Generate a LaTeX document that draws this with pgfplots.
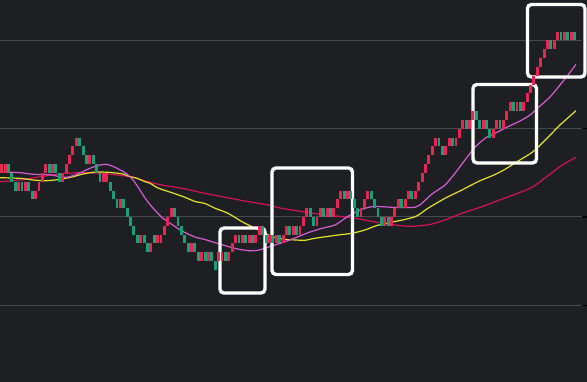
\documentclass[border=0pt]{standalone}
\usepackage{pgfplots}
\pgfplotsset{compat=1.18}
\definecolor{bg}{RGB}{30,31,34}
\definecolor{gridc}{RGB}{72,73,77}
\definecolor{bred}{RGB}{232,38,84}
\definecolor{bgreen}{RGB}{30,158,118}
\definecolor{mamag}{RGB}{214,92,214}
\definecolor{mayel}{RGB}{226,226,44}
\definecolor{macrim}{RGB}{212,18,88}
\begin{document}
\begin{tikzpicture}
\begin{axis}[name=ax, at={(0,0)}, anchor=south west,
  scale only axis, width=587bp, height=382bp,
  xmin=0, xmax=173.16, ymin=-8.69, ymax=34.58,
  axis background/.style={fill=bg},
  axis line style={draw=none},
  xtick=\empty,
  ytick={0,10,20,30}, yticklabels={}, ytick pos=right, tick align=inside,
  major tick length=5bp, tick style={draw=black, line width=1.2bp},
  ymajorgrids, major grid style={draw=gridc, line width=1bp},
]
% moving averages
\addplot[macrim, line width=1.2bp, smooth, tension=0.4] coordinates {
(0,14.00) (5.90,14.19) (11.80,14.56) (17.70,14.87) (23.60,15.02) (29.50,14.95)
(34.51,14.76) (39.23,14.50) (44.25,13.93) (47.79,13.62) (53.69,13.25) (60.47,12.68)
(71.39,11.87) (79.06,11.36) (82.60,11.02) (89.38,10.60) (94.99,10.28) (103.83,9.91)
(111.50,9.38) (116.52,9.09) (120.35,8.95) (123.01,8.98) (126.84,9.15) (131.27,9.66)
(136.28,10.42) (142.18,11.17) (146.02,11.73) (151.33,12.49) (157.23,13.43)
(165.19,15.70) (169.91,16.76)};
\addplot[mayel, line width=1.2bp, smooth, tension=0.4] coordinates {
(0,14.45) (5.90,14.38) (9.73,14.19) (13.86,14.11) (17.70,14.27) (21.53,14.56)
(24.48,14.87) (27.43,15.06) (29.50,15.10) (32.74,15.04) (36.28,14.87) (37.76,14.64)
(40.41,14.38) (42.77,14.00) (44.25,13.82) (46.61,13.28) (50.74,12.75) (54.57,12.23)
(57.52,11.76) (60.47,11.53) (63.42,10.99) (67.26,10.42) (71.39,9.47) (74.34,8.90)
(77.29,8.34) (80.24,7.77) (84.07,7.47) (87.02,7.40) (89.97,7.36) (92.92,7.59)
(99.71,7.96) (103.83,8.15) (107.67,8.53) (111.21,9.04) (116.52,9.49) (119.47,9.72)
(122.42,10.03) (123.89,10.34) (126.25,10.99) (131.27,12.12) (136.28,13.06)
(141.00,14.00) (146.02,14.81) (148.97,15.40) (152.51,16.26) (157.23,17.40)
(161.36,18.91) (165.19,20.42) (169.91,22.04)};
\addplot[mamag, line width=1.2bp, smooth, tension=0.4] coordinates {
(0,15.13) (5.90,15.02) (9.73,14.84) (14.75,14.78) (17.70,14.56) (19.76,14.50)
(22.71,14.84) (26.55,15.52) (29.50,15.89) (31.27,15.97) (33.04,15.78) (34.51,15.52)
(35.99,15.21) (37.46,14.87) (39.23,14.19) (40.71,13.40) (42.77,12.15) (44.84,11.14)
(47.79,9.95) (50.74,9.15) (53.69,8.41) (57.52,7.73) (60.47,7.45) (62.54,7.20)
(67.26,6.66) (70.80,6.32) (73.75,6.17) (76.11,6.23) (78.17,6.46) (81.12,6.83)
(84.07,7.20) (87.02,7.62) (90.86,8.22) (94.99,8.72) (98.82,9.09) (101.77,9.85)
(103.83,10.34) (106.78,10.87) (109.73,11.17) (112.68,11.17) (116.52,11.08)
(122.42,11.10) (123.89,11.36) (127.43,12.60) (131.27,13.62) (134.22,14.95)
(137.17,16.46) (140.12,17.89) (143.07,18.91) (146.02,19.48) (149.85,20.23)
(153.39,20.87) (156.34,21.55) (159.29,22.57) (162.24,23.59) (165.19,24.95)
(167.55,26.08) (169.91,27.29)};
% up bricks (red)
\addplot[only marks, mark=|, mark size=4.414bp, mark options={draw=bred, line width=2.9bp}] table {
x y
0.5 15.5
1.5 15.5
5.5 13.5
7.5 13.5
10.5 12.5
11.5 13.5
12.5 14.5
13.5 15.5
15.5 15.5
18.5 14.5
19.5 15.5
20.5 16.5
21.5 17.5
22.5 18.5
26.5 16.5
30.5 14.5
31.5 14.5
35.5 11.5
41.5 7.5
44.5 6.5
46.5 7.5
47.5 7.5
48.5 8.5
49.5 9.5
50.5 10.5
56.5 6.5
59.5 5.5
61.5 5.5
64.5 5.5
65.5 5.5
67.5 5.5
68.5 6.5
69.5 7.5
71.5 7.5
73.5 7.5
75.5 7.5
76.5 8.5
79.5 7.5
81.5 7.5
83.5 7.5
84.5 8.5
86.5 8.5
88.5 8.5
89.5 9.5
90.5 10.5
93.5 9.5
94.5 10.5
96.5 10.5
98.5 10.5
99.5 11.5
100.5 12.5
102.5 12.5
106.5 10.5
107.5 11.5
108.5 12.5
113.5 9.5
115.5 9.5
116.5 10.5
117.5 11.5
119.5 11.5
120.5 12.5
122.5 12.5
123.5 13.5
124.5 14.5
125.5 15.5
126.5 16.5
127.5 17.5
128.5 18.5
131.5 17.5
132.5 18.5
134.5 18.5
135.5 19.5
136.5 20.5
138.5 20.5
139.5 21.5
142.5 20.5
145.5 19.5
146.5 20.5
148.5 20.5
149.5 21.5
150.5 22.5
152.5 22.5
154.5 22.5
155.5 23.5
156.5 24.5
157.5 25.5
158.5 26.5
159.5 27.5
160.5 28.5
161.5 29.5
163.5 29.5
164.5 30.5
166.5 30.5
168.5 30.5
};
% down bricks (green)
\addplot[only marks, mark=|, mark size=4.414bp, mark options={draw=bgreen, line width=2.9bp}] table {
x y
2.5 15.5
3.5 14.5
4.5 13.5
6.5 13.5
8.5 13.5
9.5 12.5
14.5 15.5
16.5 15.5
17.5 14.5
23.5 18.5
24.5 17.5
25.5 16.5
27.5 16.5
28.5 15.5
29.5 14.5
32.5 13.5
33.5 12.5
34.5 11.5
36.5 11.5
37.5 10.5
38.5 9.5
39.5 8.5
40.5 7.5
42.5 7.5
43.5 6.5
45.5 7.5
51.5 10.5
52.5 9.5
53.5 8.5
54.5 7.5
55.5 6.5
57.5 6.5
58.5 5.5
60.5 5.5
62.5 5.5
63.5 4.5
66.5 5.5
70.5 7.5
72.5 7.5
74.5 7.5
77.5 8.5
78.5 7.5
80.5 7.5
82.5 7.5
85.5 8.5
87.5 8.5
91.5 10.5
92.5 9.5
95.5 10.5
97.5 10.5
101.5 12.5
103.5 12.5
104.5 11.5
105.5 10.5
109.5 12.5
110.5 11.5
111.5 10.5
112.5 9.5
114.5 9.5
118.5 11.5
121.5 12.5
129.5 18.5
130.5 17.5
133.5 18.5
137.5 20.5
140.5 21.5
141.5 20.5
143.5 20.5
144.5 19.5
147.5 20.5
151.5 22.5
153.5 22.5
162.5 29.5
165.5 30.5
167.5 30.5
169.5 30.5
};
% highlight boxes
\draw[white, line width=3.4bp, rounded corners=4bp] (axis cs:64.90,8.75) rectangle (axis cs:78.17,1.39);
\draw[white, line width=3.4bp, rounded corners=4bp] (axis cs:80.24,15.55) rectangle (axis cs:103.98,3.49);
\draw[white, line width=3.4bp, rounded corners=4bp] (axis cs:139.53,25.01) rectangle (axis cs:158.26,16.12);
\draw[white, line width=3.4bp, rounded corners=4bp] (axis cs:155.60,34.07) rectangle (axis cs:172.57,25.86);
\end{axis}
\pgfresetboundingbox
\useasboundingbox (ax.south west) rectangle (ax.north east);
\end{tikzpicture}
\end{document}
